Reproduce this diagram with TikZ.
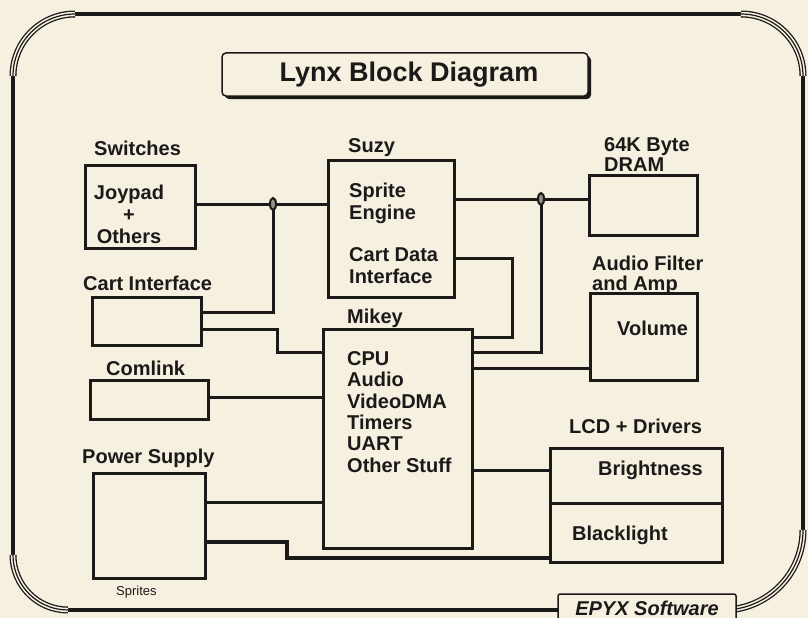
\documentclass[tikz,border=0pt]{standalone}
\usepackage{fontspec}
\setmainfont{Liberation Sans}
\usetikzlibrary{shadows}
\definecolor{ink}{RGB}{28, 26, 24}
\definecolor{paper}{RGB}{246, 240, 224}

\begin{document}
\begin{tikzpicture}[
  x=1pt, y=-1pt,
  blk/.style={draw=ink, line width=3pt, inner sep=0pt},
  lbl/.style={font=\fontsize{20}{20}\selectfont\bfseries, text=ink, inner sep=0pt, anchor=base west, align=left},
  wire/.style={draw=ink, line width=3pt},
  edge/.style={draw=ink, line width=3.5pt},
  tripline/.style={draw=ink, line width=7pt, postaction={draw=paper, line width=4.4pt}, postaction={draw=ink, line width=1.2pt}},
  tap/.style={draw=ink, line width=2pt, fill=ink!45!paper}
]
  \fill[paper] (0,0) rectangle (808,618);
  \useasboundingbox (0,0) rectangle (808,618);

  % outer frame
  \draw[edge] (75,14) -- (741,14);
  \draw[edge] (803,76) -- (803,530);
  \draw[edge] (723,610) -- (68,610);
  \draw[edge] (13,555) -- (13,76);
  \draw[tripline] (13,76) arc[start angle=180, end angle=270, radius=62];
  \draw[tripline] (741,14) arc[start angle=270, end angle=360, radius=62];
  \draw[tripline] (803,530) arc[start angle=0, end angle=90, radius=80];
  \draw[tripline] (68,610) arc[start angle=90, end angle=180, radius=55];

  % title
  \node[draw=ink, line width=1.5pt, rounded corners=4pt, fill=paper, minimum width=366, minimum height=43,
        drop shadow={shadow xshift=3pt, shadow yshift=-3pt, fill=ink, opacity=1},
        text=ink, font=\fontsize{27}{27}\selectfont\bfseries] (title) at (405,74.5) {\hspace*{8pt}Lynx Block Diagram};

  % blocks
  \node[blk, minimum width=110, minimum height=83] (joy) at (140,206.5) {};
  \node[blk, minimum width=126, minimum height=137] (suzy) at (391,228.5) {};
  \node[blk, minimum width=108, minimum height=60] (dram) at (643,205) {};
  \node[blk, minimum width=107, minimum height=87] (vol) at (643.5,336.5) {};
  \node[blk, minimum width=109, minimum height=48] (cart) at (146.5,321) {};
  \node[blk, minimum width=149, minimum height=219] (mikey) at (397.5,438.5) {};
  \node[blk, minimum width=118, minimum height=39] (com) at (149,399.5) {};
  \node[blk, minimum width=112, minimum height=105] (power) at (149,525.5) {};
  \node[blk, minimum width=172, minimum height=55] (bright) at (636,475.5) {};
  \node[blk, minimum width=172, minimum height=59] (blight) at (636,532.5) {};

  % block names (base = last line)
  \node[lbl] (switchesname) at (94,155) {Switches};
  \node[lbl] (suzyname) at (348,152) {Suzy};
  \node[lbl] (dramname) at (604,171) {64K Byte\\DRAM};
  \node[lbl] (audioname) at (592,290) {Audio Filter\\and Amp};
  \node[lbl] (cartname) at (83,290) {Cart Interface};
  \node[lbl] (mikeyname) at (347,323) {Mikey};
  \node[lbl] (comname) at (106,375) {Comlink};
  \node[lbl] (powername) at (82,463) {Power Supply};
  \node[lbl] (lcdname) at (569,433) {LCD + Drivers};
  \node[lbl, font=\fontsize{13}{13}\selectfont] (spritesname) at (116,595) {Sprites};

  % block contents
  \node[lbl, anchor=base, align=center, font=\fontsize{20}{22}\selectfont\bfseries] (joytxt) at (129,243) {Joypad\\+\\Others};
  \node[lbl, font=\fontsize{20}{22}\selectfont\bfseries] (suzytxt) at (349,283) {Sprite\\Engine\\[20pt]Cart Data\\Interface};
  \node[lbl, font=\fontsize{20}{21.3}\selectfont\bfseries] (mikeytxt) at (347,472) {CPU\\Audio\\VideoDMA\\Timers\\UART\\Other Stuff};
  \node[lbl] (voltxt) at (617,335) {Volume};
  \node[lbl] (brighttxt) at (598,475) {Brightness};
  \node[lbl] (blighttxt) at (572,540) {Blacklight};

  % connections
  \coordinate (j1) at (273,204);
  \coordinate (j2) at (541,199);
  \draw[wire] (joy.east |- j1) -- (j1) -- (suzy.west |- j1);
  \draw[wire] (j1) -- (j1 |- 0,312) -- (cart.east |- 0,312);
  \draw[wire] (cart.east |- 0,329) -- (277,329) -- (277,352) -- (mikey.west |- 0,352);
  \draw[wire] (com.east |- 0,397) -- (mikey.west |- 0,397);
  \draw[wire] (power.east |- 0,502) -- (mikey.west |- 0,502);
  \draw[wire, line width=3.6pt] (power.east |- 0,542) -- (287,542) -- (287,558) -- (blight.west |- 0,558);
  \draw[wire] (mikey.east |- 0,470) -- (bright.west |- 0,470);
  \draw[wire] (suzy.east |- j2) -- (j2) -- (dram.west |- j2);
  \draw[wire] (j2) -- (j2 |- 0,352) -- (mikey.east |- 0,352);
  \draw[wire] (suzy.east |- 0,258) -- (512,258) -- (512,337) -- (mikey.east |- 0,337);
  \draw[wire] (mikey.east |- 0,368) -- (vol.west |- 0,368);
  \draw[tap] (j1) ellipse (3 and 6);
  \draw[tap] (j2) ellipse (3 and 6);

  % maker
  \node[draw=ink, line width=1.5pt, rounded corners=2pt, fill=paper, minimum width=178, minimum height=28,
        text=ink, font=\fontsize{20}{20}\selectfont\bfseries\itshape] (epyx) at (647,608) {EPYX Software};
\end{tikzpicture}
\end{document}
